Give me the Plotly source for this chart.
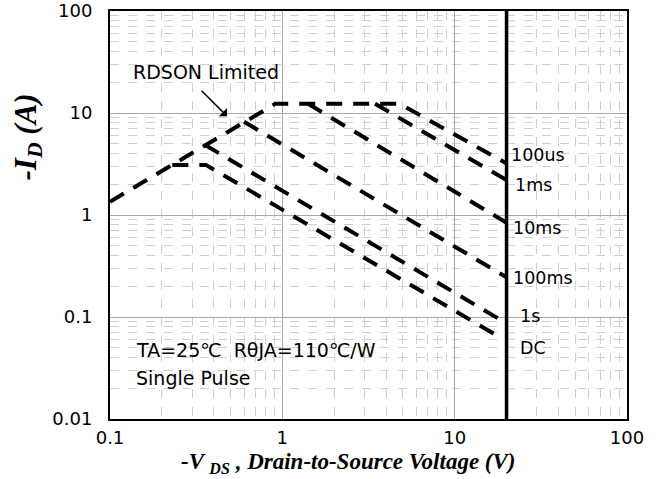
import math
import plotly.graph_objects as go

# ---- data (V in volts, I in amps) ----
env_v = [0.1, 0.91, 4.8, 20]          # RDSON limit + 100us curve
env_i = [1.35, 12.3, 12.3, 3.2]
ms1_v = [3.45, 20]
ms1_i = [12.3, 2.2]
ms10_v = [1.41, 20]
ms10_i = [12.3, 0.84]
ms100_v = [0.6, 20]
ms100_i = [8.2, 0.245]
s1_v = [0.356, 18.4]
s1_i = [4.86, 0.094]
dc_v = [0.23, 0.36, 18.7]
dc_i = [3.1, 3.1, 0.062]
vmax_v = [20, 20]
vmax_i = [0.01, 100]

x_ticks = [0.1, 1, 10, 100]
x_labels = ["0.1", "1", "10", "100"]
y_ticks = [0.01, 0.1, 1, 10, 100]
y_labels = ["0.01", "0.1", "1", "10", "100"]

curve_labels = ["100us", "1ms", "10ms", "100ms", "1s", "DC"]
label_v = [20.7, 21.8, 21.2, 21.2, 23.3, 23.3]
label_i = [3.88, 1.97, 0.75, 0.241, 0.102, 0.050]

FONT = "DejaVu Sans"
SERIF = "Liberation Serif"

fig = go.Figure()
dash = "16px,11px"
for v, i in [(env_v, env_i), (ms1_v, ms1_i), (ms10_v, ms10_i),
             (ms100_v, ms100_i), (s1_v, s1_i), (dc_v, dc_i)]:
    fig.add_trace(go.Scatter(x=v, y=i, mode="lines",
                             line=dict(color="black", width=4, dash=dash),
                             showlegend=False, hoverinfo="skip"))
fig.add_trace(go.Scatter(x=vmax_v, y=vmax_i, mode="lines",
                         line=dict(color="black", width=3.5),
                         showlegend=False, hoverinfo="skip"))

for txt, v, i in zip(curve_labels, label_v, label_i):
    fig.add_annotation(x=math.log10(v), y=math.log10(i), xref="x", yref="y",
                       text=txt, showarrow=False, xanchor="left", yanchor="middle",
                       font=dict(family=FONT, size=17.5, color="black"))

fig.add_annotation(x=math.log10(0.36), y=math.log10(25.3), xref="x", yref="y",
                   text="RDSON Limited", showarrow=False,
                   font=dict(family=FONT, size=19, color="black"))
fig.add_annotation(x=math.log10(0.478), y=math.log10(9.3), xref="x", yref="y",
                   text="", showarrow=True, ax=-27, ay=-27,
                   arrowhead=1, arrowsize=1.3, arrowwidth=1.5, arrowcolor="black")
fig.add_annotation(x=math.log10(0.1375), y=math.log10(0.0474), xref="x", yref="y",
                   text="TA=25℃  RθJA=110℃/W", showarrow=False, xanchor="left",
                   font=dict(family=FONT, size=19, color="black"))
fig.add_annotation(x=math.log10(0.1375), y=math.log10(0.0252), xref="x", yref="y",
                   text="Single Pulse", showarrow=False, xanchor="left",
                   font=dict(family=FONT, size=19, color="black"))

fig.add_annotation(x=-0.1586, y=0.69, xref="paper", yref="paper",
                   xanchor="center", yanchor="middle",
                   text="<b><i>-I<sub>D</sub> (A)</i></b>", showarrow=False,
                   textangle=-90, font=dict(family=SERIF, size=31, color="black"))
fig.add_annotation(x=0.462, y=-0.108, xref="paper", yref="paper",
                   xanchor="center", yanchor="middle",
                   text="<b><i>-V <sub>DS</sub> , Drain-to-Source Voltage (V)</i></b>",
                   showarrow=False, font=dict(family=SERIF, size=23, color="black"))

axis_common = dict(
    type="log", showline=True, linecolor="black", linewidth=2, mirror=True,
    showgrid=True, gridcolor="#a8a8a8", gridwidth=1,
    ticks="", zeroline=False, automargin=False,
    tickfont=dict(family=FONT, size=18, color="black"),
    minor=dict(dtick="D1", showgrid=True, gridcolor="#cfcfcf", griddash="dash", gridwidth=1, ticks=""),
)
fig.update_xaxes(range=[-1, 2], tickvals=x_ticks, ticktext=x_labels,
                 ticklabelstandoff=1, **axis_common)
fig.update_yaxes(range=[-2, 2], tickvals=y_ticks, ticktext=y_labels,
                 ticklabelstandoff=12, **axis_common)

fig.update_layout(width=662, height=479,
                  margin=dict(l=110, r=35, t=11, b=60, autoexpand=False),
                  paper_bgcolor="white", plot_bgcolor="white")
fig.write_html("out.html", config={"displayModeBar": False},
               post_script="document.body.style.margin='0';document.body.style.overflow='hidden';")
